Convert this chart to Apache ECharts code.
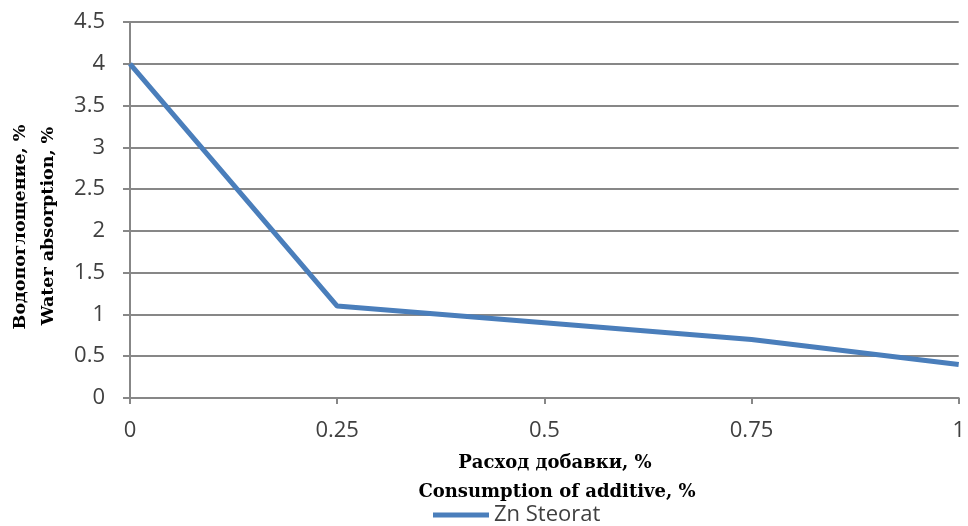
<!DOCTYPE html>
<html>
<head>
<meta charset="utf-8">
<script src="https://cdn.jsdelivr.net/npm/echarts@6/dist/echarts.min.js"></script>
<style>
  html, body { margin: 0; padding: 0; background: #fff; }
  #chart { width: 968px; height: 526px; }
</style>
</head>
<body>
<div id="chart"></div>
<script>
// Additive consumption (%) and water absorption (%)
const additive = [0, 0.25, 0.5, 0.75, 1];
const absorption = [4.0, 1.1, 0.9, 0.7, 0.4];
const seriesName = 'Zn Steorat';
const yTitle = ['Водопоглощение, %', 'Water absorption, %'];
const xTitle = ['Расход добавки, %', 'Consumption of additive, %'];

const lineColor = '#4a7ebb';
const gridColor = '#878787';
const tickFont = '"Open Sans", "Noto Sans", sans-serif';
const titleFont = '"DejaVu Serif", "Liberation Serif", serif';

const chart = echarts.init(document.getElementById('chart'), null, { renderer: 'canvas' });
chart.setOption({
  animation: false,
  backgroundColor: '#ffffff',
  grid: { left: 130, right: 3, top: 22, bottom: 128, containLabel: false },
  xAxis: {
    type: 'value', min: 0, max: 1, interval: 0.25,
    axisLine: { show: true, lineStyle: { color: gridColor, width: 2 } },
    axisTick: { show: true, length: 6, lineStyle: { color: gridColor, width: 2 } },
    splitLine: { show: false },
    axisLabel: {
      margin: 22, color: '#404040', fontSize: 22, fontFamily: tickFont,
      formatter: v => String(v)
    }
  },
  yAxis: {
    type: 'value', min: 0, max: 4.5, interval: 0.5,
    axisLine: { show: true, lineStyle: { color: gridColor, width: 2 } },
    axisTick: { show: true, length: 7, lineStyle: { color: gridColor, width: 2 } },
    splitLine: { show: true, lineStyle: { color: gridColor, width: 2 } },
    axisLabel: {
      margin: 25, color: '#404040', fontSize: 22, fontFamily: tickFont,
      formatter: v => String(v)
    }
  },
  legend: {
    bottom: 0, left: 433, padding: 0,
    icon: 'rect', itemWidth: 56, itemHeight: 5, itemGap: 5,
    textStyle: { color: '#404040', fontSize: 22, fontFamily: tickFont, padding: [0, 0, 0, 0] },
    data: [seriesName]
  },
  series: [{
    name: seriesName,
    type: 'line',
    data: additive.map((x, i) => [x, absorption[i]]),
    symbol: 'none',
    lineStyle: { color: lineColor, width: 5 },
    itemStyle: { color: lineColor }
  }],
  graphic: [
    {
      type: 'text', x: 20, y: 227, rotation: Math.PI / 2,
      style: {
        text: yTitle[0], font: 'bold 17.5px ' + titleFont, fill: '#000',
        textAlign: 'center', textVerticalAlign: 'middle'
      }
    },
    {
      type: 'text', x: 48, y: 226, rotation: Math.PI / 2,
      style: {
        text: yTitle[1], font: 'bold 17.5px ' + titleFont, fill: '#000',
        textAlign: 'center', textVerticalAlign: 'middle'
      }
    },
    {
      type: 'text', x: 555, y: 463,
      style: {
        text: xTitle[0], font: 'bold 18px ' + titleFont, fill: '#000',
        textAlign: 'center', textVerticalAlign: 'middle'
      }
    },
    {
      type: 'text', x: 557, y: 492,
      style: {
        text: xTitle[1], font: 'bold 18px ' + titleFont, fill: '#000',
        textAlign: 'center', textVerticalAlign: 'middle'
      }
    }
  ]
});
</script>
</body>
</html>
